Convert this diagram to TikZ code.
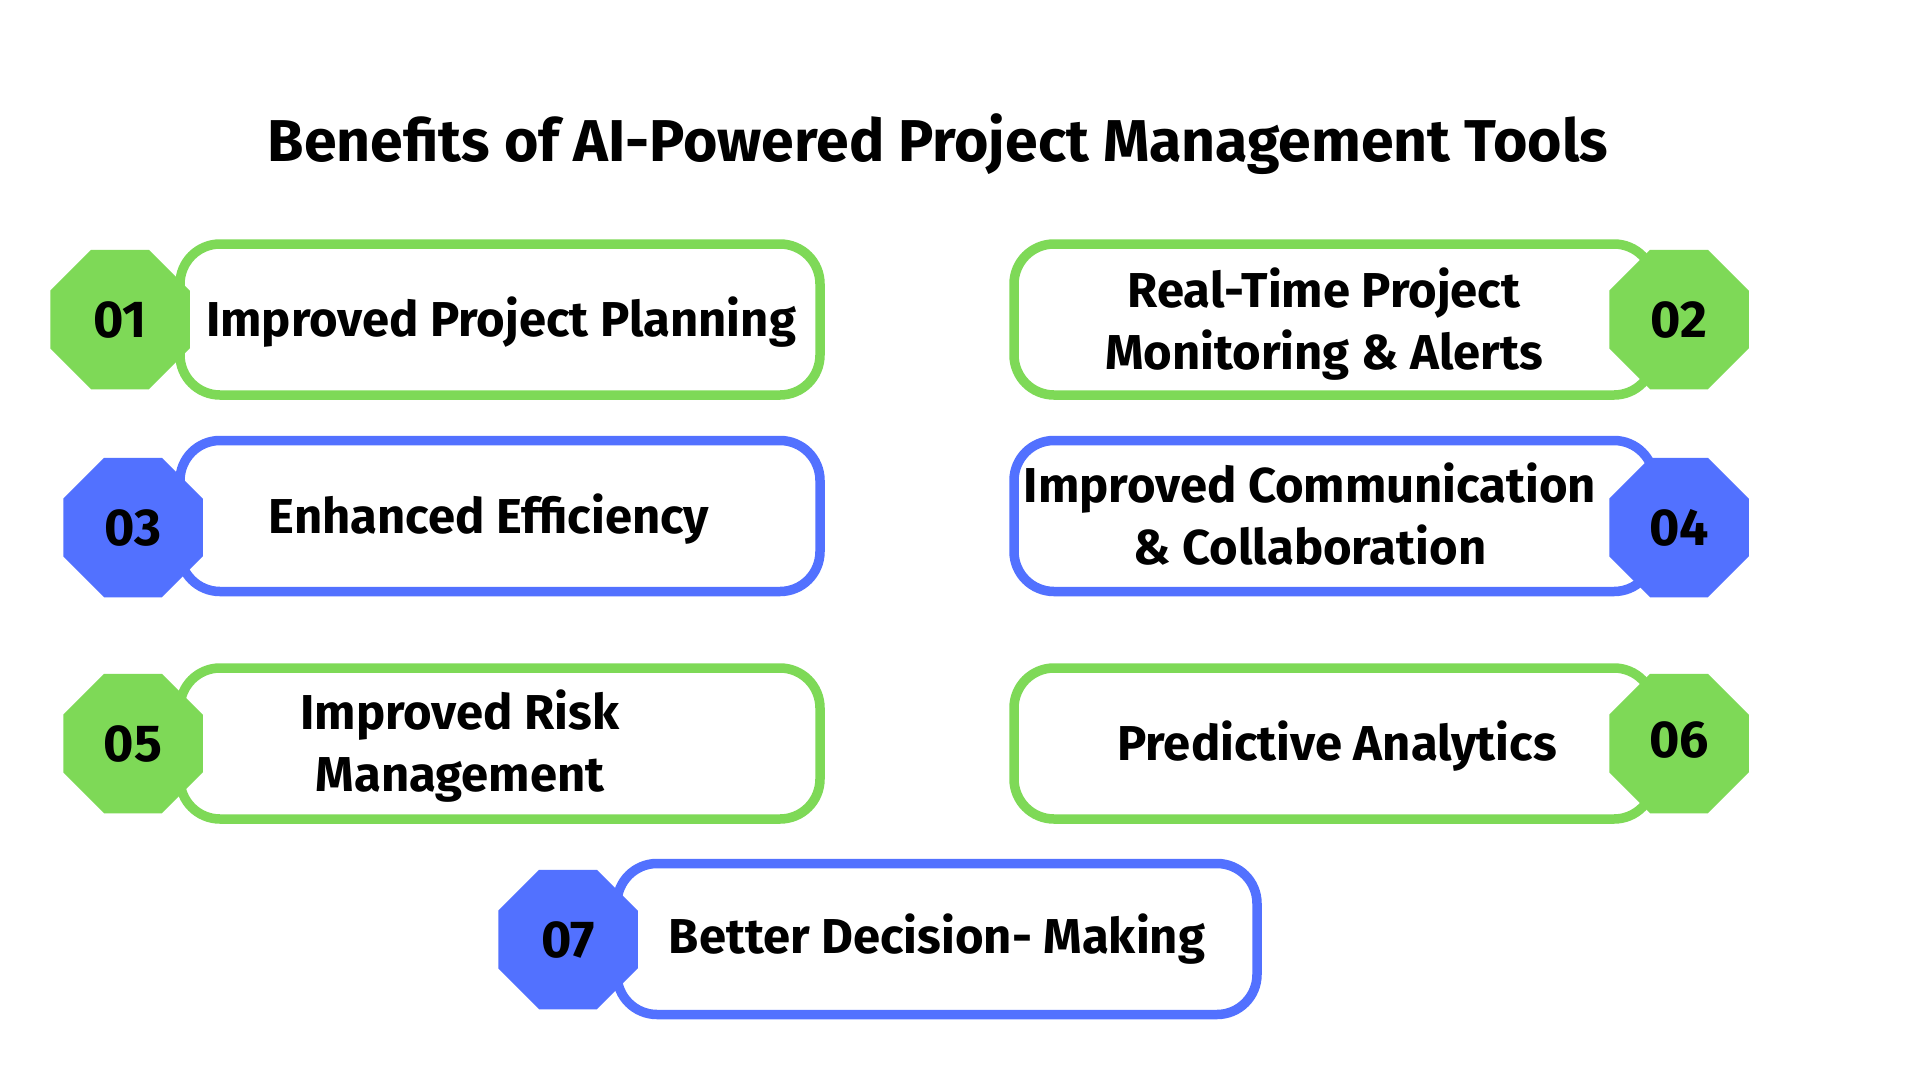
\documentclass[tikz,border=0pt]{standalone}
\usepackage{fontspec}
\setmainfont{Fira Sans}
\usetikzlibrary{shapes.geometric}
\definecolor{leafgreen}{HTML}{7ED957}
\definecolor{royalblue}{HTML}{5271FF}

\begin{document}
\begin{tikzpicture}[x = 1pt, y = -1pt,
                    pill/.style = {draw, line width = 9.5pt, fill = white, rounded corners = 40pt,
                                   minimum width = 640pt, minimum height = 151pt},
                    octa/.style = {regular polygon, regular polygon sides = 8, minimum size = 151pt,
                                   inner sep = 0pt, font = \fontsize{52}{60}\selectfont\bfseries},
                    lbl/.style = {align = center, inner sep = 0pt, font = \fontsize{49}{62}\selectfont\bfseries}]
                    \useasboundingbox[fill = white] (0, 0) rectangle (1920, 1080);
                    \node[anchor = base, inner sep = 0pt, font = \fontsize{59}{68}\selectfont\bfseries] (title) at (938, 161)
                        {Benefits of AI-Powered Project Management Tools};
                    \node[pill, draw = leafgreen] (b1) at (500, 319.5) {};
                    \node[pill, draw = leafgreen] (b2) at (1334, 319.5) {};
                    \node[pill, draw = royalblue] (b3) at (500, 516) {};
                    \node[pill, draw = royalblue] (b4) at (1334, 516) {};
                    \node[pill, draw = leafgreen] (b5) at (500, 743.5) {};
                    \node[pill, draw = leafgreen] (b6) at (1334, 743.5) {};
                    \node[pill, draw = royalblue] (b7) at (937, 939) {};
                    \node[octa, fill = leafgreen] (o1) at (120, 319.5) {01};
                    \node[octa, fill = leafgreen] (o2) at (1679, 319.5) {02};
                    \node[octa, fill = royalblue] (o3) at (133, 527.5) {03};
                    \node[octa, fill = royalblue] (o4) at (1679, 527.5) {04};
                    \node[octa, fill = leafgreen] (o5) at (133, 743.5) {05};
                    \node[octa, fill = leafgreen] (o6) at (1679, 743.5) {\raisebox{7pt}{06}};
                    \node[octa, fill = royalblue] (o7) at (568, 939.5) {07};
                    \node[lbl, anchor = base] (t1) at (501, 336) {Improved Project Planning};
                    \node[lbl] (t2) at (1324, 324) {Real-Time Project\\Monitoring \& Alerts};
                    \node[lbl, anchor = base] (t3) at (489, 533) {Enhanced Efficiency};
                    \node[lbl] (t4) at (1310, 514) {Improved Communication\\\& Collaboration};
                    \node[lbl] (t5) at (460, 746) {Improved Risk\\Management};
                    \node[lbl, anchor = base] (t6) at (1337, 760) {Predictive Analytics};
                    \node[lbl, anchor = base] (t7) at (937, 953) {Better Decision- Making};
                \end{tikzpicture}
\end{document}
